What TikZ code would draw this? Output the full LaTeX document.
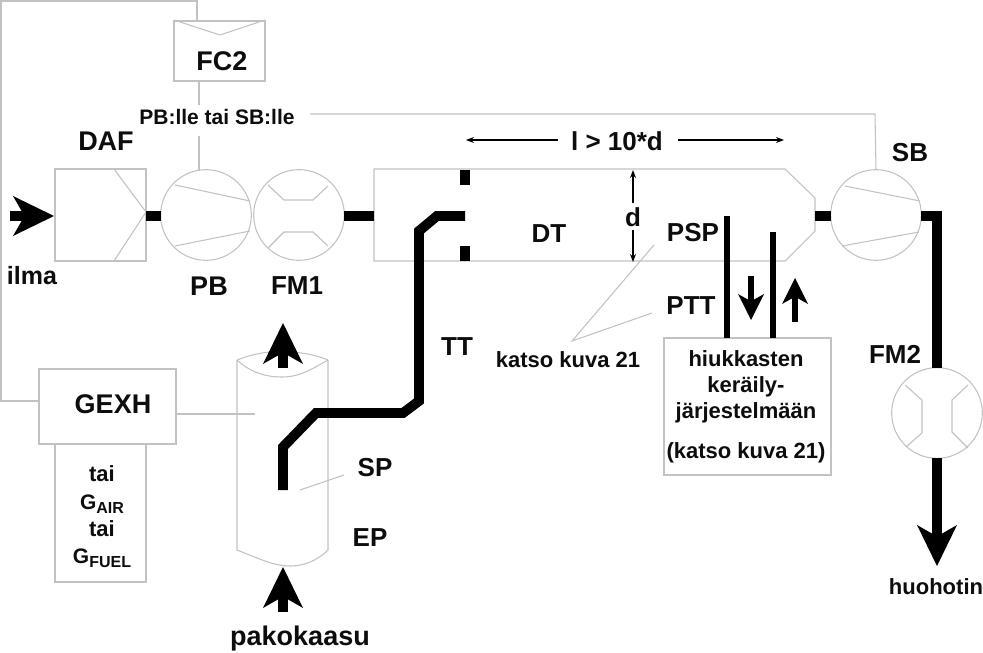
\documentclass[tikz,border=0pt]{standalone}
\usepackage{fontspec}
\setmainfont{Liberation Sans}
\newcommand{\lbl}[1]{\pgfmathsetmacro{\fsz}{#1*0.75}\fontsize{\fsz}{\fsz}\selectfont\bfseries}
\newcommand{\headat}[5]{\fill[black,shift={(#1,#2)},rotate=#3] (0,0)--(-#4,#5)--(-0.72*#4,0)--(-#4,-#5)--cycle;}
\usetikzlibrary{arrows.meta}
\tikzset{
  thin line/.style={draw=black!24,line width=0.8pt},
  pipe/.style={draw=black,line width=7.4pt},
  tube/.style={draw=black,line width=5.2pt},
  stub/.style={draw=black,line width=6.8pt},
  dim/.style={draw=black,line width=0.9pt,-{Stealth[length=6pt,width=4.5pt]}},
  boxnode/.style={thin line,rectangle,inner sep=0pt,outer sep=0pt,fill=white},
  rot/.style={thin line,circle,inner sep=0pt,outer sep=0pt,minimum size=68pt},
  txt/.style={inner sep=0pt,outer sep=0pt,align=center,text=black!95}
}
\begin{document}
\begin{tikzpicture}[x=0.75pt,y=-0.75pt]
\useasboundingbox[fill=white] (0,0) rectangle (983,653);
% boxes
\node[boxnode,minimum width=68.25pt,minimum height=45pt] (fc) at (219.5,51) {};
\node[boxnode,minimum width=68.25pt,minimum height=69pt] (daf) at (100.5,215) {};
\node[boxnode,minimum width=102.75pt,minimum height=56.25pt] (gexh) at (107.5,406.5) {};
\node[boxnode,minimum width=68.25pt,minimum height=103.5pt] (gas) at (100.5,513) {};
\node[boxnode,minimum width=125.25pt,minimum height=102.75pt] (coll) at (747.5,406.5) {};
\node[rot] (pb) at (206,215) {};
\node[rot] (fmone) at (299,215) {};
\node[rot] (sb) at (876,215) {};
\node[rot] (fmtwo) at (937,413) {};
% named points
\coordinate (topc) at (197,1);
\coordinate (topl) at (1,1);
\coordinate (botl) at (1,401);
\coordinate (gexhl) at (39,401);
\coordinate (fcin) at (197,21);
\coordinate (fcout) at (199,81);
\coordinate (lineA) at (199,105);
\coordinate (lineB) at (199,136);
\coordinate (lineC) at (310,114);
\coordinate (lineD) at (875,114);
\coordinate (gexhr) at (176,414);
\coordinate (epin) at (255,414);
% control lines
\draw[thin line] (fcin) -- (topc) -- (topl) -- (botl) -- (gexhl);
\draw[thin line] (fcout) -- (lineA);
\draw[thin line] (lineB) -- (pb.north -| lineB);
\draw[thin line] (lineC) -- (lineD) -- (sb.north);
\draw[thin line] (gexhr) -- (epin);
% FC2 chevron
\draw[thin line] (174,20) -- (220,35) -- (265,20);
% DAF
\draw[thin line] (114,169) -- (146,212) -- (114,261);
% blades
\draw[thin line] (175,185) -- (250,201) (175,246) -- (250,231);
\draw[thin line] (845,186) -- (920,201) (842,246) -- (919,232);
\draw[thin line] (268,185) -- (284,200) -- (313,200) -- (328,186);
\draw[thin line] (268,248) -- (284,232) -- (313,232) -- (328,246);
\draw[thin line] (905,385) -- (922,400) -- (922,433) -- (906,447);
\draw[thin line] (968,385) -- (952,400) -- (952,432) -- (968,448);
% DT
\draw[thin line] (374,169) -- (785,169) -- (815,198) -- (815,231) -- (785,261) -- (374,261) -- cycle;
% EP cylinder
\draw[thin line] (237,360) -- (237,550) .. controls (262,560) and (275,566) .. (290,566) .. controls (305,566) and (318,560) .. (328,550) -- (328,360);
\draw[thin line] (237,360) .. controls (255,353) and (270,351) .. (285,352) .. controls (305,352) and (318,356) .. (328,360);
\draw[thin line] (237,360) .. controls (250,372) and (265,377) .. (282,377) .. controls (300,377) and (312,369) .. (328,360);
% callouts
\draw[thin line] (654,245) -- (572,341) -- (652,313);
\draw[thin line] (300,490) -- (344,475);
% pipes
\coordinate (ttend) at (465,216);
\coordinate (spend) at (283,490);
\draw[pipe,line join=miter] (ttend) -- (437,216) -- (419,231) -- (419,401) -- (403,413) -- (316,413) -- (283,447) -- (spend);
\coordinate (dta) at (374,216);
\coordinate (dtb) at (815,216);
\coordinate (dafr) at (146,216);
\draw[stub] (dafr) -- (pb.west |- dafr);
\draw[stub] (fmone.east |- dta) -- (dta);
\draw[stub] (dtb) -- (sb.west |- dtb);
\draw[pipe] (921,216) -- (937,216) -- (fmtwo.north);
\draw[pipe] (fmtwo.south) -- (937,540);
\headat{937}{566}{-90}{41}{20}
% dashes
\draw[black,line width=7.5pt] (465,170) -- (465,185) (465,246) -- (465,261);
% sample tubes
\coordinate (psptop) at (727,216);
\coordinate (ptttop) at (773,232);
\draw[tube] (psptop) -- (psptop |- coll.north);
\draw[tube] (ptttop) -- (ptttop |- coll.north);
% small arrows
\draw[black,line width=5.2pt] (751,276) -- (751,305);
\headat{751}{320}{-90}{26}{13}
\draw[black,line width=5.2pt] (795,322) -- (795,295);
\headat{795}{278}{90}{26}{13}
% big arrows
\draw[black,line width=7.2pt] (10,216) -- (35,216);
\headat{54}{216}{0}{41}{20}
\draw[black,line width=7.2pt] (283,368) -- (283,350);
\headat{283}{323}{90}{41}{20}
\draw[black,line width=7.2pt] (283,612) -- (283,595);
\headat{283}{567}{90}{41}{20}
% dimension arrows
\draw[dim] (558,140) -- (466,140);
\draw[dim] (678,140) -- (784,140);
\draw[dim] (633,203) -- (633,170);
\draw[dim] (633,230) -- (633,262);
% labels
\node[txt,font=\lbl{27}] (tfc) at (222,61) {FC2};
\node[txt,font=\lbl{21}] (tnote) at (217,117) {PB:lle tai SB:lle};
\node[txt,font=\lbl{27}] (tdaf) at (106,141) {DAF};
\node[txt,font=\lbl{25}] (tilma) at (32,276) {ilma};
\node[txt,font=\lbl{27}] (tpb) at (209,286) {PB};
\node[txt,font=\lbl{26}] (tfm) at (297,286) {FM1};
\node[txt,font=\lbl{26}] (tl) at (617,141) {l > 10*d};
\node[txt,font=\lbl{26}] (td) at (633,217) {d};
\node[txt,font=\lbl{26}] (tdt) at (549,234) {DT};
\node[txt,font=\lbl{26}] (tsb) at (910,153) {SB};
\node[txt,font=\lbl{26}] (tpsp) at (693,233) {PSP};
\node[txt,font=\lbl{26}] (tptt) at (691,306) {PTT};
\node[txt,font=\lbl{26}] (ttt) at (457,347) {TT};
\node[txt,font=\lbl{22}] (tkatso) at (568,360) {katso kuva 21};
\node[txt,font=\lbl{22}] (t1) at (746,359) {hiukkasten};
\node[txt,font=\lbl{22}] (t2) at (746,387) {keräily-};
\node[txt,font=\lbl{22}] (t3) at (746,413) {järjestelmään};
\node[txt,font=\lbl{22}] (t4) at (746,453) {(katso kuva 21)};
\node[txt,font=\lbl{26}] (tfmt) at (895,354) {FM2};
\node[txt,font=\lbl{22}] (thuo) at (936,587) {huohotin};
\node[txt,font=\lbl{27}] (tgexh) at (113,404) {GEXH};
\node[txt,font=\lbl{22}] (ta) at (102,474) {tai};
\node[txt,font=\lbl{21}] (tg1) at (102,504) {G\raisebox{-0.2em}{\lbl{16}AIR}};
\node[txt,font=\lbl{22}] (tb) at (102,529) {tai};
\node[txt,font=\lbl{21}] (tg2) at (102,558) {G\raisebox{-0.2em}{\lbl{16}FUEL}};
\node[txt,font=\lbl{26}] (tsp) at (375,468) {SP};
\node[txt,font=\lbl{26}] (tep) at (370,538) {EP};
\node[txt,font=\lbl{27}] (tpak) at (300,639) {pakokaasu};
\end{tikzpicture}
\end{document}
